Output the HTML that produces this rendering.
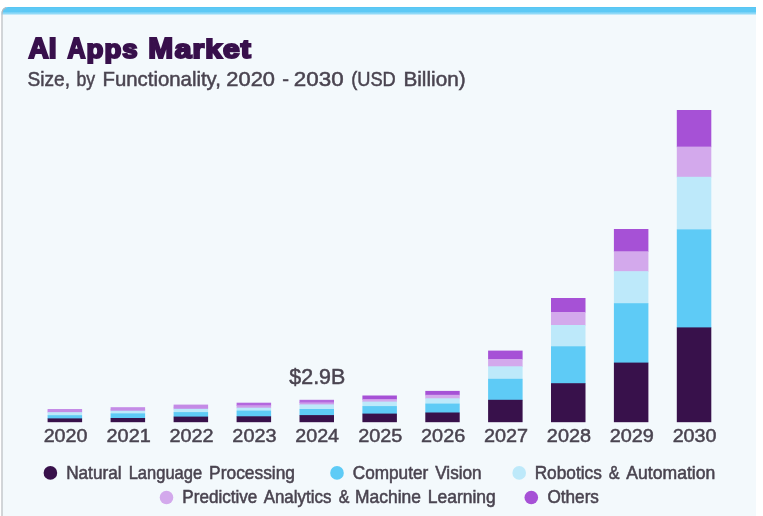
<!DOCTYPE html>
<html lang="en"><head><meta charset="utf-8"><title>AI Apps Market</title>
<style>
html,body{margin:0;padding:0;background:#fff;}
body{width:763px;height:516px;overflow:hidden;position:relative;}
svg{position:absolute;left:0;top:0;display:block;}
text{font-family:"Liberation Sans",sans-serif;}
</style></head><body>
<svg width="763" height="516" viewBox="0 0 763 516">
<defs><linearGradient id="tb" x1="0" y1="0" x2="0" y2="1"><stop offset="0" stop-color="#5dc9f5"/><stop offset="1" stop-color="#5dc9f5" stop-opacity="0"/></linearGradient><clipPath id="card"><path d="M1.5 516 V14 Q1.5 7 8.5 7 H756 V516 Z"/></clipPath></defs>
<g clip-path="url(#card)">
<rect x="0" y="0" width="763" height="516" fill="#f3f9fc"/>
<rect x="0" y="6" width="763" height="6.6" fill="#5dc9f5"/>
<rect x="0" y="12.5" width="763" height="3" fill="url(#tb)"/>
<rect x="0" y="6.5" width="763" height="0.9" fill="#55c3f0"/>
</g>
<path d="M2 516 V14 Q2 9 6 7.6" fill="none" stroke="#b9bcc0" stroke-width="1.2"/>
<g style="filter:blur(0.7px)">
<text y="58.05" font-size="28.9" fill="#38104c" font-weight="bold" stroke="#38104c" stroke-width="2.1" stroke-linejoin="miter"><tspan x="28.51" textLength="27.99" lengthAdjust="spacingAndGlyphs">AI</tspan> <tspan x="67.46" textLength="17.96" lengthAdjust="spacingAndGlyphs">A</tspan><tspan x="86.63" font-size="26.0" letter-spacing="0.9" textLength="51.79" lengthAdjust="spacingAndGlyphs">pps</tspan> <tspan x="148.18" textLength="24.92" lengthAdjust="spacingAndGlyphs">M</tspan><tspan x="174.88" font-size="26.0" letter-spacing="0.9" textLength="76.85" lengthAdjust="spacingAndGlyphs">arket</tspan></text>
<text y="86.15" font-size="20.6" fill="#4a4450" stroke="#4a4450" stroke-width="0.5" stroke-linejoin="miter"><tspan x="27.45" textLength="42.53" lengthAdjust="spacingAndGlyphs">Size,</tspan> <tspan x="76.44" textLength="18.71" lengthAdjust="spacingAndGlyphs">by</tspan> <tspan x="102.46" textLength="118.51" lengthAdjust="spacingAndGlyphs">Functionality,</tspan> <tspan x="226.32" textLength="48.67" lengthAdjust="spacingAndGlyphs">2020</tspan> <tspan x="282.21" textLength="6.77" lengthAdjust="spacingAndGlyphs">-</tspan> <tspan x="293.80" textLength="49.81" lengthAdjust="spacingAndGlyphs">2030</tspan> <tspan x="351.19" textLength="44.59" lengthAdjust="spacingAndGlyphs">(USD</tspan> <tspan x="403.43" textLength="62.19" lengthAdjust="spacingAndGlyphs">Billion)</tspan></text>
<rect x="47.6" y="409.0" width="34.5" height="2.3" fill="#c48be6"/><rect x="47.6" y="410.7" width="34.5" height="2.1" fill="#c48be6"/><rect x="47.6" y="412.2" width="34.5" height="3.6" fill="#bde9fa"/><rect x="47.6" y="415.2" width="34.5" height="3.8" fill="#5ecbf6"/><rect x="47.6" y="418.4" width="34.5" height="3.8" fill="#38114b"/>
<text x="43.68" y="442.15" font-size="19.2" fill="#4a4450" stroke="#4a4450" stroke-width="0.5" stroke-linejoin="miter" textLength="43.81" lengthAdjust="spacingAndGlyphs">2020</text>
<rect x="110.6" y="407.2" width="34.5" height="2.5" fill="#c48be6"/><rect x="110.6" y="409.1" width="34.5" height="2.2" fill="#c48be6"/><rect x="110.6" y="410.7" width="34.5" height="3.3" fill="#bde9fa"/><rect x="110.6" y="413.4" width="34.5" height="5.2" fill="#5ecbf6"/><rect x="110.6" y="418.0" width="34.5" height="4.2" fill="#38114b"/>
<text x="106.57" y="442.15" font-size="19.2" fill="#4a4450" stroke="#4a4450" stroke-width="0.5" stroke-linejoin="miter" textLength="44.13" lengthAdjust="spacingAndGlyphs">2021</text>
<rect x="173.6" y="404.6" width="34.5" height="2.9" fill="#c48be6"/><rect x="173.6" y="406.9" width="34.5" height="2.5" fill="#c48be6"/><rect x="173.6" y="408.8" width="34.5" height="3.9" fill="#bde9fa"/><rect x="173.6" y="412.1" width="34.5" height="5.1" fill="#5ecbf6"/><rect x="173.6" y="416.6" width="34.5" height="5.6" fill="#38114b"/>
<text x="169.47" y="442.15" font-size="19.2" fill="#4a4450" stroke="#4a4450" stroke-width="0.5" stroke-linejoin="miter" textLength="44.13" lengthAdjust="spacingAndGlyphs">2022</text>
<rect x="236.6" y="402.7" width="34.5" height="3.2" fill="#b468de"/><rect x="236.6" y="405.3" width="34.5" height="3.0" fill="#cd9dea"/><rect x="236.6" y="407.7" width="34.5" height="3.5" fill="#bde9fa"/><rect x="236.6" y="410.6" width="34.5" height="6.3" fill="#5ecbf6"/><rect x="236.6" y="416.3" width="34.5" height="5.9" fill="#38114b"/>
<text x="232.37" y="442.15" font-size="19.2" fill="#4a4450" stroke="#4a4450" stroke-width="0.5" stroke-linejoin="miter" textLength="44.13" lengthAdjust="spacingAndGlyphs">2023</text>
<rect x="299.5" y="399.8" width="34.5" height="3.2" fill="#b468de"/><rect x="299.5" y="402.4" width="34.5" height="2.6" fill="#cd9dea"/><rect x="299.5" y="404.4" width="34.5" height="5.2" fill="#bde9fa"/><rect x="299.5" y="409.0" width="34.5" height="6.7" fill="#5ecbf6"/><rect x="299.5" y="415.1" width="34.5" height="7.1" fill="#38114b"/>
<text x="295.28" y="442.15" font-size="19.2" fill="#4a4450" stroke="#4a4450" stroke-width="0.5" stroke-linejoin="miter" textLength="43.81" lengthAdjust="spacingAndGlyphs">2024</text>
<rect x="362.4" y="395.5" width="34.5" height="4.3" fill="#a651d6"/><rect x="362.4" y="399.2" width="34.5" height="3.0" fill="#d3a9ec"/><rect x="362.4" y="401.6" width="34.5" height="5.1" fill="#bde9fa"/><rect x="362.4" y="406.1" width="34.5" height="8.1" fill="#5ecbf6"/><rect x="362.4" y="413.6" width="34.5" height="8.6" fill="#38114b"/>
<text x="358.17" y="442.15" font-size="19.2" fill="#4a4450" stroke="#4a4450" stroke-width="0.5" stroke-linejoin="miter" textLength="44.13" lengthAdjust="spacingAndGlyphs">2025</text>
<rect x="425.3" y="390.9" width="34.4" height="4.5" fill="#a651d6"/><rect x="425.3" y="394.8" width="34.4" height="4.1" fill="#d3a9ec"/><rect x="425.3" y="398.3" width="34.4" height="5.9" fill="#bde9fa"/><rect x="425.3" y="403.6" width="34.4" height="9.5" fill="#5ecbf6"/><rect x="425.3" y="412.5" width="34.4" height="9.7" fill="#38114b"/>
<text x="421.07" y="442.15" font-size="19.2" fill="#4a4450" stroke="#4a4450" stroke-width="0.5" stroke-linejoin="miter" textLength="44.13" lengthAdjust="spacingAndGlyphs">2026</text>
<rect x="488.1" y="350.6" width="34.5" height="9.0" fill="#a651d6"/><rect x="488.1" y="359.0" width="34.5" height="7.9" fill="#d3a9ec"/><rect x="488.1" y="366.3" width="34.5" height="13.1" fill="#bde9fa"/><rect x="488.1" y="378.8" width="34.5" height="21.6" fill="#5ecbf6"/><rect x="488.1" y="399.8" width="34.5" height="22.4" fill="#38114b"/>
<text x="483.97" y="442.15" font-size="19.2" fill="#4a4450" stroke="#4a4450" stroke-width="0.5" stroke-linejoin="miter" textLength="44.13" lengthAdjust="spacingAndGlyphs">2027</text>
<rect x="551.0" y="298.0" width="34.5" height="14.6" fill="#a651d6"/><rect x="551.0" y="312.0" width="34.5" height="13.6" fill="#d3a9ec"/><rect x="551.0" y="325.0" width="34.5" height="21.9" fill="#bde9fa"/><rect x="551.0" y="346.3" width="34.5" height="37.5" fill="#5ecbf6"/><rect x="551.0" y="383.2" width="34.5" height="39.0" fill="#38114b"/>
<text x="546.87" y="442.15" font-size="19.2" fill="#4a4450" stroke="#4a4450" stroke-width="0.5" stroke-linejoin="miter" textLength="44.13" lengthAdjust="spacingAndGlyphs">2028</text>
<rect x="613.9" y="229.0" width="34.5" height="22.9" fill="#a651d6"/><rect x="613.9" y="251.3" width="34.5" height="20.5" fill="#d3a9ec"/><rect x="613.9" y="271.2" width="34.5" height="32.6" fill="#bde9fa"/><rect x="613.9" y="303.2" width="34.5" height="60.0" fill="#5ecbf6"/><rect x="613.9" y="362.6" width="34.5" height="59.6" fill="#38114b"/>
<text x="609.77" y="442.15" font-size="19.2" fill="#4a4450" stroke="#4a4450" stroke-width="0.5" stroke-linejoin="miter" textLength="44.13" lengthAdjust="spacingAndGlyphs">2029</text>
<rect x="676.8" y="110.0" width="34.5" height="37.2" fill="#a651d6"/><rect x="676.8" y="146.6" width="34.5" height="30.8" fill="#d3a9ec"/><rect x="676.8" y="176.8" width="34.5" height="53.2" fill="#bde9fa"/><rect x="676.8" y="229.4" width="34.5" height="98.6" fill="#5ecbf6"/><rect x="676.8" y="327.4" width="34.5" height="94.8" fill="#38114b"/>
<text x="672.68" y="442.15" font-size="19.2" fill="#4a4450" stroke="#4a4450" stroke-width="0.5" stroke-linejoin="miter" textLength="43.81" lengthAdjust="spacingAndGlyphs">2030</text>
<text x="289.35" y="384.45" font-size="21.5" fill="#4a4450" stroke="#4a4450" stroke-width="0.5" stroke-linejoin="miter" textLength="55.90" lengthAdjust="spacingAndGlyphs">$2.9B</text>
<circle cx="50.4" cy="472.9" r="6.8" fill="#38114b"/>
<text y="479.23" font-size="18.5" fill="#4a4450" stroke="#4a4450" stroke-width="0.55" stroke-linejoin="miter"><tspan x="66.13" textLength="55.43" lengthAdjust="spacingAndGlyphs">Natural</tspan> <tspan x="128.69" textLength="73.41" lengthAdjust="spacingAndGlyphs">Language</tspan> <tspan x="209.12" textLength="85.88" lengthAdjust="spacingAndGlyphs">Processing</tspan></text>
<circle cx="337.0" cy="472.9" r="6.8" fill="#5ecbf6"/>
<text y="479.23" font-size="18.5" fill="#4a4450" stroke="#4a4450" stroke-width="0.55" stroke-linejoin="miter"><tspan x="352.77" textLength="75.44" lengthAdjust="spacingAndGlyphs">Computer</tspan> <tspan x="435.18" textLength="46.52" lengthAdjust="spacingAndGlyphs">Vision</tspan></text>
<circle cx="519.2" cy="472.9" r="6.8" fill="#bde9fa"/>
<text y="479.23" font-size="18.5" fill="#4a4450" stroke="#4a4450" stroke-width="0.55" stroke-linejoin="miter"><tspan x="534.63" textLength="67.14" lengthAdjust="spacingAndGlyphs">Robotics</tspan> <tspan x="608.77" textLength="10.73" lengthAdjust="spacingAndGlyphs">&amp;</tspan> <tspan x="626.37" textLength="88.94" lengthAdjust="spacingAndGlyphs">Automation</tspan></text>
<circle cx="166.5" cy="497.5" r="6.8" fill="#d3a9ec"/>
<text y="503.32" font-size="18.5" fill="#4a4450" stroke="#4a4450" stroke-width="0.55" stroke-linejoin="miter"><tspan x="182.34" textLength="74.98" lengthAdjust="spacingAndGlyphs">Predictive</tspan> <tspan x="263.68" textLength="67.68" lengthAdjust="spacingAndGlyphs">Analytics</tspan> <tspan x="338.68" textLength="10.62" lengthAdjust="spacingAndGlyphs">&amp;</tspan> <tspan x="355.11" textLength="65.82" lengthAdjust="spacingAndGlyphs">Machine</tspan> <tspan x="427.81" textLength="68.00" lengthAdjust="spacingAndGlyphs">Learning</tspan></text>
<circle cx="531.3" cy="497.5" r="6.8" fill="#a651d6"/>
<text y="503.32" font-size="18.5" fill="#4a4450" stroke="#4a4450" stroke-width="0.55" stroke-linejoin="miter"><tspan x="547.47" textLength="51.49" lengthAdjust="spacingAndGlyphs">Others</tspan></text>
</g>
</svg>
</body></html>
